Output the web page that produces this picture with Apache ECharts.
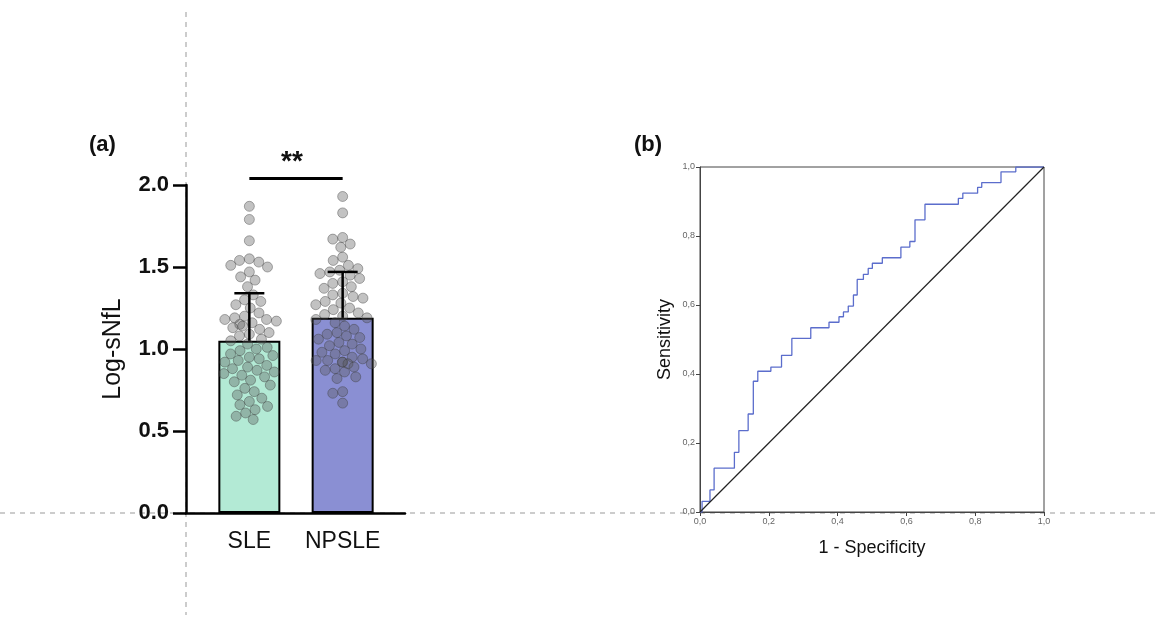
<!DOCTYPE html>
<html>
<head>
<meta charset="utf-8">
<title>sNfL SLE vs NPSLE</title>
<script src="https://cdn.jsdelivr.net/npm/echarts@6/dist/echarts.min.js"></script>
<style>
  html, body { margin: 0; padding: 0; background: #fff; }
  #chart { width: 1155px; height: 619px; }
</style>
</head>
<body>
<div id="chart"></div>
<script>
// panel (a) data
const categories = ['SLE', 'NPSLE'];
const meanValues = [1.05, 1.19];
const sdValues = [0.29, 0.28];
const sigLevel = 2.04;
const sleValues = [1.87, 1.79, 1.66, 1.55, 1.54, 1.53, 1.51, 1.50, 1.47, 1.44, 1.42, 1.38, 1.33, 1.30,
  1.29, 1.27, 1.25, 1.22, 1.20, 1.19, 1.18, 1.18, 1.17, 1.16, 1.15, 1.14, 1.13, 1.12, 1.10, 1.09,
  1.08, 1.06, 1.05, 1.03, 1.01, 1.00, 0.99, 0.97, 0.96, 0.95, 0.94, 0.93, 0.92, 0.90, 0.89, 0.88,
  0.87, 0.86, 0.85, 0.84, 0.83, 0.81, 0.80, 0.78, 0.76, 0.74, 0.72, 0.70, 0.68, 0.66, 0.65, 0.63,
  0.61, 0.59, 0.57];
const npsleValues = [1.93, 1.83, 1.68, 1.67, 1.64, 1.62, 1.56, 1.54, 1.51, 1.49, 1.48, 1.47, 1.46,
  1.45, 1.43, 1.41, 1.40, 1.38, 1.37, 1.34, 1.33, 1.32, 1.31, 1.29, 1.28, 1.27, 1.25, 1.24, 1.22,
  1.21, 1.20, 1.19, 1.18, 1.16, 1.14, 1.12, 1.10, 1.09, 1.08, 1.07, 1.06, 1.04, 1.03, 1.02, 1.00,
  0.99, 0.98, 0.97, 0.95, 0.94, 0.93, 0.93, 0.92, 0.92, 0.91, 0.91, 0.89, 0.88, 0.87, 0.86, 0.83,
  0.82, 0.74, 0.73, 0.67];

// panel (b) ROC curve corners (1 - specificity, sensitivity)
const rocFpr = [0, 0.006, 0.029, 0.041, 0.100, 0.113, 0.140, 0.155, 0.168, 0.206, 0.237, 0.267,
  0.322, 0.375, 0.404, 0.417, 0.431, 0.446, 0.457, 0.475, 0.489, 0.501, 0.530, 0.584, 0.610,
  0.625, 0.654, 0.751, 0.764, 0.807, 0.819, 0.875, 0.918, 1.0];
const rocTpr = [0, 0.031, 0.064, 0.127, 0.173, 0.236, 0.284, 0.379, 0.408, 0.420, 0.454, 0.503,
  0.534, 0.550, 0.566, 0.580, 0.597, 0.629, 0.674, 0.689, 0.706, 0.721, 0.737, 0.768, 0.784,
  0.847, 0.892, 0.909, 0.924, 0.941, 0.955, 0.986, 1.0, 1.0];
const refLine = [0, 1];

const barColors = ['#b3ead5', '#8a8fd3'];
const font = 'Arial, "Liberation Sans", sans-serif';

const chart = echarts.init(document.getElementById('chart'));

const commaLabel = v => v.toFixed(1).replace('.', ',');

const option = {
  animation: false,
  backgroundColor: '#fff',
  textStyle: { fontFamily: font },
  grid: [
    // frame of panel (a)
    { left: 186, top: 185, width: 219, height: 328 },
    // bars of panel (a)
    { left: 202.7, top: 185, width: 186.6, height: 328 },
    // ROC
    { left: 700, top: 167, width: 344, height: 345, show: true, borderColor: '#444', borderWidth: 1 }
  ],
  xAxis: [
    {
      gridIndex: 0, type: 'value', min: 0, max: 1,
      axisLine: { lineStyle: { color: '#000', width: 2.5 } },
      axisTick: { show: false }, axisLabel: { show: false }, splitLine: { show: false }
    },
    {
      gridIndex: 1, type: 'category', data: categories,
      jitter: 58, jitterOverlap: false, jitterMargin: 0,
      axisLine: { show: false },
      axisTick: { alignWithLabel: true, length: 12, lineStyle: { color: '#000', width: 2.5 } },
      axisLabel: { interval: 0, fontSize: 23, color: '#111', margin: 17, fontFamily: font }
    },
    {
      gridIndex: 2, type: 'value', min: 0, max: 1, interval: 0.2,
      axisLine: { lineStyle: { color: '#444', width: 1 } },
      axisTick: { length: 4, lineStyle: { color: '#444' } },
      axisLabel: { fontSize: 9, color: '#666', formatter: commaLabel, margin: 5 },
      splitLine: { show: false },
      name: '1 - Specificity', nameLocation: 'middle', nameGap: 27,
      nameTextStyle: { fontSize: 18, color: '#111', fontFamily: font }
    }
  ],
  yAxis: [
    {
      gridIndex: 0, type: 'value', min: 0, max: 2, interval: 0.5,
      axisLine: { show: true, lineStyle: { color: '#000', width: 2.5 } },
      axisTick: { show: true, length: 13, lineStyle: { color: '#000', width: 2.5 } },
      axisLabel: { fontSize: 22, fontWeight: 'bold', color: '#111', margin: 17,
        formatter: v => v.toFixed(1) },
      splitLine: { show: false },
      name: 'Log-sNfL', nameLocation: 'middle', nameGap: 60, nameRotate: 90,
      nameTextStyle: { fontSize: 25, color: '#111', fontFamily: font }
    },
    { gridIndex: 1, type: 'value', min: 0, max: 2, show: false },
    {
      gridIndex: 2, type: 'value', min: 0, max: 1, interval: 0.2,
      axisLine: { show: true, lineStyle: { color: '#444', width: 1 } },
      axisTick: { show: true, length: 4, lineStyle: { color: '#444' } },
      axisLabel: { fontSize: 9, color: '#666', formatter: commaLabel, margin: 5 },
      splitLine: { show: false },
      name: 'Sensitivity', nameLocation: 'middle', nameGap: 26, nameRotate: 90,
      nameTextStyle: { fontSize: 18, color: '#111', fontFamily: font }
    }
  ],
  graphic: [
    { type: 'line', z: -1, shape: { x1: 0, y1: 513, x2: 1155, y2: 513 },
      style: { stroke: '#999', lineWidth: 1, lineDash: [5, 5] } },
    { type: 'line', z: -1, shape: { x1: 186, y1: 12, x2: 186, y2: 615 },
      style: { stroke: '#999', lineWidth: 1, lineDash: [5, 5] } },
    { type: 'text', left: 89, top: 134,
      style: { text: '(a)', font: 'bold 22px ' + font, fill: '#111' } },
    { type: 'text', left: 634, top: 134,
      style: { text: '(b)', font: 'bold 22px ' + font, fill: '#111' } },
    { type: 'text', left: 281, top: 148,
      style: { text: '**', font: 'bold 28px ' + font, fill: '#111' } }
  ],
  series: [
    {
      type: 'bar', xAxisIndex: 1, yAxisIndex: 1, barWidth: 62, z: 1,
      data: meanValues.map((v, i) => ({ value: v, itemStyle: { color: barColors[i] } })),
      itemStyle: { borderColor: '#000', borderWidth: 2 }
    },
    {
      type: 'scatter', xAxisIndex: 1, yAxisIndex: 1, symbolSize: 10, z: 3,
      data: sleValues.map(v => [categories[0], v]),
      itemStyle: { color: 'rgba(85,85,85,0.45)', borderColor: 'rgba(60,60,60,0.5)', borderWidth: 1 }
    },
    {
      type: 'scatter', xAxisIndex: 1, yAxisIndex: 1, symbolSize: 10, z: 3,
      data: npsleValues.map(v => [categories[1], v]),
      itemStyle: { color: 'rgba(85,85,85,0.45)', borderColor: 'rgba(60,60,60,0.5)', borderWidth: 1 }
    },
    {
      // error bars (mean + SD)
      type: 'custom', xAxisIndex: 1, yAxisIndex: 1, z: 4,
      data: categories.map((c, i) => [i, meanValues[i], meanValues[i] + sdValues[i]]),
      renderItem: (params, api) => {
        const lo = api.coord([api.value(0), api.value(1)]);
        const hi = api.coord([api.value(0), api.value(2)]);
        const style = { stroke: '#000', lineWidth: 2.5 };
        return {
          type: 'group',
          children: [
            { type: 'line', shape: { x1: lo[0], y1: lo[1], x2: hi[0], y2: hi[1] }, style },
            { type: 'line', shape: { x1: hi[0] - 15, y1: hi[1], x2: hi[0] + 15, y2: hi[1] }, style }
          ]
        };
      }
    },
    {
      // significance bracket
      type: 'line', xAxisIndex: 1, yAxisIndex: 1, clip: false, symbol: 'none', z: 4,
      data: categories.map(c => [c, sigLevel]),
      lineStyle: { color: '#000', width: 3 }
    },
    {
      type: 'line', xAxisIndex: 2, yAxisIndex: 2, symbol: 'none', step: 'end',
      data: rocFpr.map((x, i) => [x, rocTpr[i]]),
      lineStyle: { color: '#5b6dcc', width: 1.3 }
    },
    {
      type: 'line', xAxisIndex: 2, yAxisIndex: 2, symbol: 'none',
      data: refLine.map(v => [v, v]),
      lineStyle: { color: '#222', width: 1.2 }
    }
  ]
};

chart.setOption(option);
</script>
</body>
</html>
